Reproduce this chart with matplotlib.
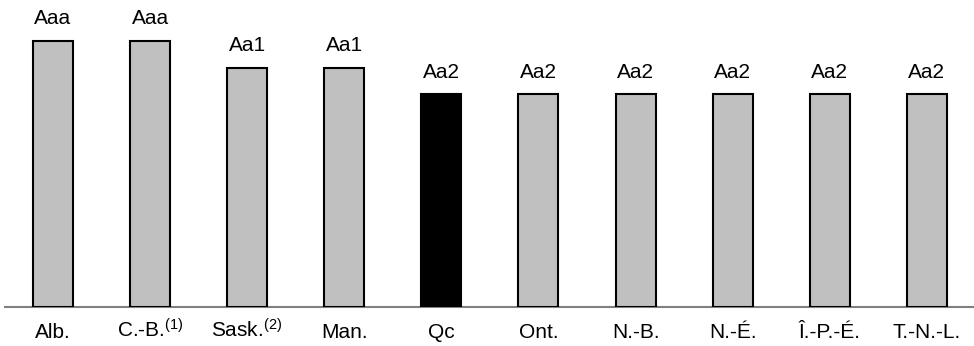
import matplotlib
matplotlib.use("Agg")
import matplotlib.pyplot as plt
import numpy as np

plt.rcParams['font.family'] = ['Liberation Sans', 'DejaVu Sans']
plt.rcParams['mathtext.fontset'] = 'custom'
plt.rcParams['mathtext.rm'] = 'Liberation Sans'
plt.rcParams['mathtext.it'] = 'Liberation Sans:italic'

# provinces and their credit ratings (Moody's scale)
provinces = ['Alb.', 'C.-B.$^{(1)}$', 'Sask.$^{(2)}$', 'Man.', 'Qc',
             'Ont.', 'N.-B.', 'N.-É.', 'Î.-P.-É.', 'T.-N.-L.']
ratings = ['Aaa', 'Aaa', 'Aa1', 'Aa1', 'Aa2', 'Aa2', 'Aa2', 'Aa2', 'Aa2', 'Aa2']
rating_level = {'Aaa': 10, 'Aa1': 9, 'Aa2': 8}
highlight = 'Qc'

heights = [rating_level[r] for r in ratings]
colors = ['black' if p == highlight else '#c0c0c0' for p in provinces]

fig = plt.figure(figsize=(9.74, 3.46), dpi=100)
ax = fig.add_axes([5 / 974, 39 / 346, 969 / 974, 307 / 346])

x = np.arange(len(provinces))
bars = ax.bar(x, heights, width=0.412, color=colors, edgecolor='black',
              linewidth=1.5, zorder=3)

for xi, h, r in zip(x, heights, ratings):
    ax.annotate(r, (xi, h), xytext=(0, 12), textcoords='offset points',
                ha='center', va='baseline', fontsize=15)

ax.set_xlim(-0.494, 9.485)
ax.set_ylim(0, 11.54)
ax.set_xticks(x)
ax.set_xticklabels(provinces, fontsize=15)
for lbl in ax.get_xticklabels():
    lbl.set_va('baseline')
ax.tick_params(axis='x', length=0, pad=22)
ax.set_yticks([])
for s in ['top', 'left', 'right']:
    ax.spines[s].set_visible(False)
ax.spines['bottom'].set_color('#808080')
ax.spines['bottom'].set_linewidth(1.5)

fig.savefig('out.png', dpi=100)
